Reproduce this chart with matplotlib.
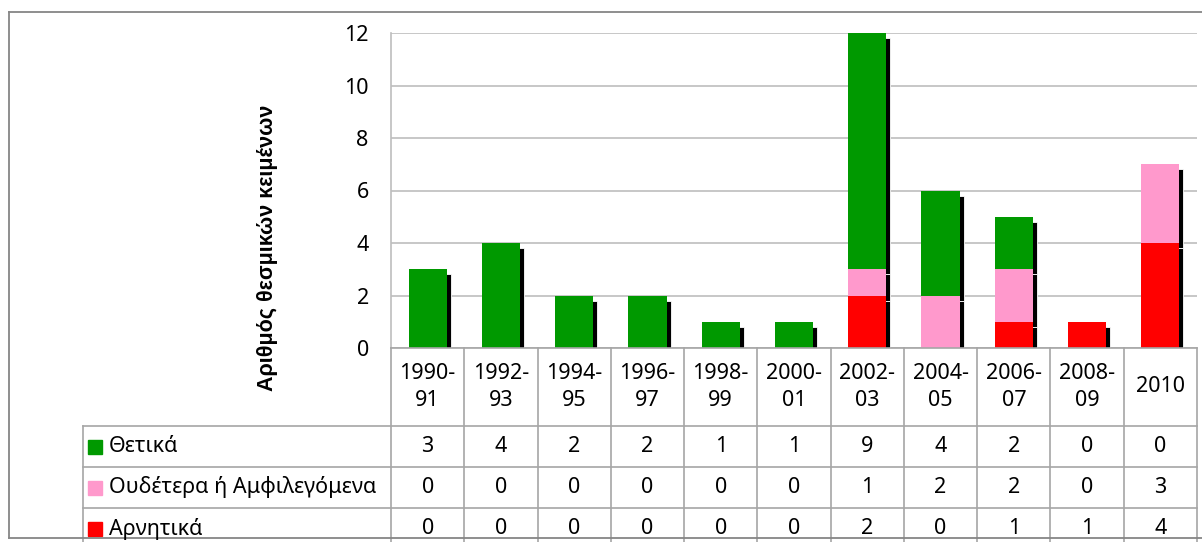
import matplotlib
matplotlib.use("Agg")
import matplotlib.pyplot as plt
import matplotlib.transforms as mtransforms
from matplotlib.lines import Line2D
from matplotlib.patches import Rectangle
import numpy as np

plt.rcParams['font.family'] = ['Noto Sans', 'DejaVu Sans']

periods = ["1990-\n91", "1992-\n93", "1994-\n95", "1996-\n97", "1998-\n99", "2000-\n01",
           "2002-\n03", "2004-\n05", "2006-\n07", "2008-\n09", "2010"]
series_names = ["Θετικά", "Ουδέτερα ή Αμφιλεγόμενα", "Αρνητικά"]
positive = [3, 4, 2, 2, 1, 1, 9, 4, 2, 0, 0]
neutral = [0, 0, 0, 0, 0, 0, 1, 2, 2, 0, 3]
negative = [0, 0, 0, 0, 0, 0, 2, 0, 1, 1, 4]
colors = ["#009900", "#FF99CC", "#FF0000"]
ylabel = "Αριθμός θεσμικών κειμένων"

W, H = 1202, 542
fig = plt.figure(figsize=(W / 100, H / 100), dpi=100)
fs = 15.5

def fx(px):
    return px / W

def fy(py):
    return 1 - py / H

# plot area in pixels
left, right, top, bottom = 391, 1197, 33, 348
ax = fig.add_axes([fx(left), fy(bottom), fx(right - left), (bottom - top) / H])

x = np.arange(len(periods))
bw = 0.52
# stack order bottom -> top: negative, neutral, positive
stack = [(negative, colors[2]), (neutral, colors[1]), (positive, colors[0])]

shadow_tr = mtransforms.offset_copy(ax.transData, fig=fig, x=4, y=-5, units='dots')
base = np.zeros(len(x))
for vals, col in stack:
    v = np.array(vals, dtype=float)
    mask = v > 0
    ax.bar(x[mask], v[mask], bw, bottom=base[mask], color='black', edgecolor='white',
           linewidth=0.6, transform=shadow_tr, zorder=2)
    base += v
base = np.zeros(len(x))
for vals, col in stack:
    v = np.array(vals, dtype=float)
    mask = v > 0
    ax.bar(x[mask], v[mask], bw, bottom=base[mask], color=col, linewidth=0, zorder=3)
    base += v

ax.set_xlim(-0.5, len(periods) - 0.5)
ax.set_ylim(0, 12)
ax.set_yticks(range(0, 13, 2))
ax.set_xticks([])
ax.yaxis.grid(True, color='#BEBEBE', linewidth=1.2)
ax.set_axisbelow(True)
for s in ['top', 'right', 'bottom']:
    ax.spines[s].set_visible(False)
ax.spines['left'].set_color('#BEBEBE')
ax.spines['left'].set_linewidth(1.2)
ax.tick_params(axis='y', length=0, pad=16, labelsize=fs, colors='black')

fig.text(fx(268), fy(248), ylabel, rotation=90, ha='center', va='center',
         fontsize=15.5, fontweight='bold', family=['Liberation Sans', 'DejaVu Sans'])

# data table drawn under the axes
bt = mtransforms.blended_transform_factory(ax.transData, fig.transFigure)
line_c = '#A6A6A6'
row_lines = [426, 467, 508]
edges = np.arange(len(periods) + 1) - 0.5
ax_y0 = fy(bottom)
# header top (x axis line)
fig.add_artist(Line2D([edges[0], edges[-1]], [ax_y0, ax_y0], transform=bt, color=line_c, lw=1.2))
for e in edges:
    fig.add_artist(Line2D([e, e], [ax_y0, 0], transform=bt, color=line_c, lw=1.2))
for ry in row_lines:
    fig.add_artist(Line2D([fx(83), fx(right)], [fy(ry), fy(ry)], color=line_c, lw=1.2))
fig.add_artist(Line2D([fx(83), fx(83)], [fy(426), 0], color=line_c, lw=1.2))

for i, p in enumerate(periods):
    fig.text(x[i], fy((bottom + 426) / 2), p, transform=bt, ha='center', va='center',
             fontsize=fs, linespacing=1.4)

row_centers = [446.5, 487.5, 528.5]
table_vals = [positive, neutral, negative]
for r, (name, col, vals) in enumerate(zip(series_names, colors, table_vals)):
    cy = row_centers[r]
    fig.add_artist(Rectangle((fx(88), fy(cy + 7)), fx(14), 14 / H, color=col))
    fig.text(fx(109), fy(cy), name, ha='left', va='center', fontsize=fs)
    for i, v in enumerate(vals):
        fig.text(x[i], fy(cy), str(v), transform=bt, ha='center', va='center', fontsize=fs)

# outer chart border
border_c = '#868686'
fig.add_artist(Line2D([fx(9), 1], [fy(12), fy(12)], color=border_c, lw=1.3))
fig.add_artist(Line2D([fx(9), fx(9)], [fy(12), fy(538)], color=border_c, lw=1.3))
fig.add_artist(Line2D([fx(9), 1], [fy(538), fy(538)], color=border_c, lw=1.3))

fig.savefig("out.png", dpi=100)
